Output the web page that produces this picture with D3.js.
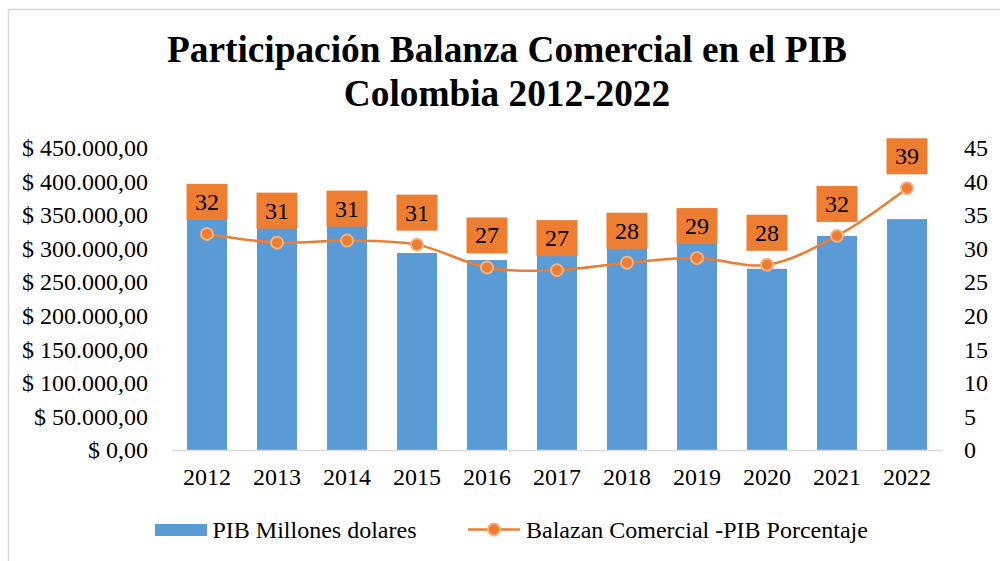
<!DOCTYPE html>
<html><head><meta charset="utf-8">
<script src="https://cdn.jsdelivr.net/npm/d3@7"></script>
<style>body{margin:0;background:#fff}svg text{font-family:"Liberation Serif","Times New Roman",Tinos,Times,"DejaVu Serif",serif !important}</style>
</head><body><svg id="c" width="1000" height="561"></svg>
<script>
const years = ["2012","2013","2014","2015","2016","2017","2018","2019","2020","2021","2022"];
const pib = [370000, 382000, 381000, 293500, 283000, 311000, 334000, 323000, 270000, 319000, 344000];
const balanza = [32.2, 30.9, 31.2, 30.6, 27.2, 26.8, 27.9, 28.6, 27.6, 31.9, 39.0];
const leftTicks = [0,50000,100000,150000,200000,250000,300000,350000,400000,450000];
const rightTicks = [0,5,10,15,20,25,30,35,40,45];
const seriesNames = ["PIB Millones dolares","Balazan Comercial -PIB Porcentaje"];
const titleLines = ["Participación Balanza Comercial en el PIB","Colombia 2012-2022"];

const svg = d3.select("#c");
const blue = "#5B9BD5", orange = "#ED7D31";
svg.append("rect").attr("x",8.5).attr("y",9.5).attr("width",1000).attr("height",560)
  .attr("fill","none").attr("stroke","#d9d9d9").attr("stroke-width",1.5);

const x = d3.scaleBand().domain(years).range([172,942]).paddingInner(0.4286).paddingOuter(0.2143);
const yL = d3.scaleLinear().domain([0,450000]).range([450,148]);
const yR = d3.scaleLinear().domain([0,45]).range([450,148]);

svg.append("g").selectAll("text").data(titleLines).join("text")
  .attr("x",507).attr("y",(d,i)=>62+i*44).attr("text-anchor","middle")
  .attr("font-size",37.3).attr("font-weight","bold").attr("fill","#000").text(d=>d);

svg.append("g").selectAll("rect").data(years).join("rect")
  .attr("x",d=>x(d)).attr("width",x.bandwidth())
  .attr("y",(d,i)=>yL(pib[i])).attr("height",(d,i)=>yL(0)-yL(pib[i]))
  .attr("fill",blue);

const fmt = v => "$ " + d3.format(",.2f")(v).replace(/,/g,"#").replace(/\./g,",").replace(/#/g,".");
const gL = svg.append("g").attr("transform","translate(172,0)")
  .call(d3.axisLeft(yL).tickValues(leftTicks).tickFormat(fmt).tickSize(0).tickPadding(24));
gL.select(".domain").remove();
gL.selectAll("text").attr("font-size",24).attr("fill","#000");
const gR = svg.append("g").attr("transform","translate(942,0)")
  .call(d3.axisRight(yR).tickValues(rightTicks).tickSize(0).tickPadding(22));
gR.select(".domain").remove();
gR.selectAll("text").attr("font-size",24).attr("fill","#000");
const gX = svg.append("g").attr("transform","translate(0,450)")
  .call(d3.axisBottom(x).tickSize(0).tickPadding(18));
gX.select(".domain").attr("stroke","#d9d9d9").attr("stroke-width",1.5);
gX.selectAll("text").attr("font-size",24).attr("fill","#000");

const cx = d => x(d)+x.bandwidth()/2;
const line = d3.line().x((d,i)=>cx(years[i])).y(d=>yR(d)).curve(d3.curveCatmullRom.alpha(0.5));
svg.append("path").datum(balanza).attr("d",line).attr("fill","none")
  .attr("stroke",orange).attr("stroke-width",2.5);
svg.append("g").selectAll("circle").data(balanza).join("circle")
  .attr("cx",(d,i)=>cx(years[i])).attr("cy",d=>yR(d)).attr("r",6)
  .attr("fill",orange).attr("stroke","#F4B183").attr("stroke-width",2);

const lg = svg.append("g").selectAll("g").data(balanza).join("g")
  .attr("transform",(d,i)=>`translate(${cx(years[i])},${yR(d)-14})`);
lg.append("rect").attr("x",-20.5).attr("y",-36).attr("width",41).attr("height",36).attr("fill",orange);
lg.append("text").attr("y",-10).attr("text-anchor","middle").attr("font-size",24).attr("fill","#000")
  .text(d=>d3.format(".0f")(d));

const leg = svg.append("g");
leg.append("rect").attr("x",155).attr("y",524).attr("width",52).attr("height",12).attr("fill",blue);
leg.append("text").attr("x",212.5).attr("y",537.5).attr("font-size",24).attr("fill","#000").text(seriesNames[0]);
leg.append("line").attr("x1",468).attr("x2",520).attr("y1",529.5).attr("y2",529.5).attr("stroke",orange).attr("stroke-width",2.5);
leg.append("circle").attr("cx",494).attr("cy",529.5).attr("r",6).attr("fill",orange).attr("stroke","#F4B183").attr("stroke-width",2);
leg.append("text").attr("x",526).attr("y",537.5).attr("font-size",24).attr("fill","#000").text(seriesNames[1]);
</script></body></html>
